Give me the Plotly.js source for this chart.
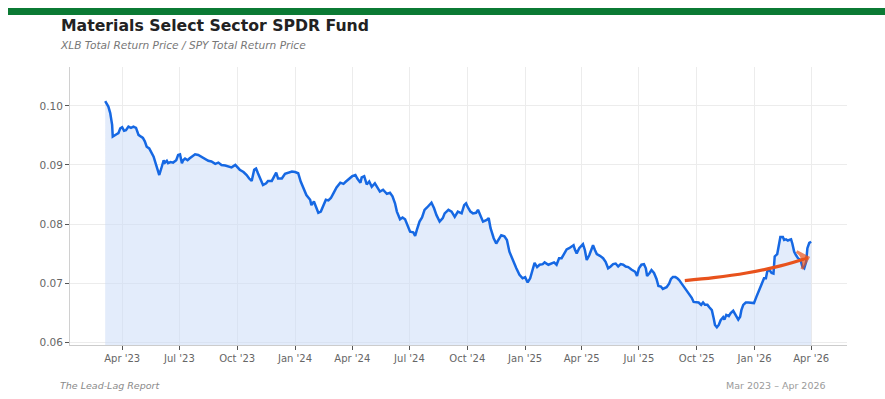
<!DOCTYPE html>
<html>
<head>
<meta charset="utf-8">
<script src="https://cdn.plot.ly/plotly-3.0.1.min.js"></script>
<style>
html, body { margin: 0; padding: 0; background: #ffffff; }
#chart { width: 885px; height: 399px; }
</style>
</head>
<body>
<div id="chart"></div>
<script>
// ---- Data ----
const dates = [
"2023-03-05","2023-03-10","2023-03-13","2023-03-16","2023-03-17","2023-03-21","2023-03-23","2023-03-26","2023-03-29","2023-04-01",
"2023-04-04","2023-04-07","2023-04-11","2023-04-15","2023-04-19","2023-04-23","2023-04-27","2023-05-01","2023-05-04","2023-05-07",
"2023-05-10","2023-05-14","2023-05-18","2023-05-21","2023-05-25","2023-05-27","2023-05-30","2023-06-03","2023-06-06","2023-06-08",
"2023-06-11","2023-06-13","2023-06-17","2023-06-21","2023-06-26","2023-06-29","2023-07-02","2023-07-05","2023-07-07","2023-07-10",
"2023-07-14","2023-07-17","2023-07-21","2023-07-26","2023-07-31","2023-08-05","2023-08-11","2023-08-16","2023-08-21","2023-08-27",
"2023-09-01","2023-09-06","2023-09-12","2023-09-17","2023-09-22","2023-09-28","2023-10-01","2023-10-05","2023-10-11","2023-10-16",
"2023-10-20","2023-10-24","2023-10-28","2023-10-31","2023-11-03","2023-11-07","2023-11-11","2023-11-16","2023-11-19","2023-11-25",
"2023-11-28","2023-12-02","2023-12-05","2023-12-11","2023-12-16","2023-12-21","2023-12-27","2024-01-01","2024-01-06","2024-01-10",
"2024-01-14","2024-01-19","2024-01-25","2024-01-27","2024-01-31","2024-02-03","2024-02-07","2024-02-11","2024-02-15","2024-02-19",
"2024-02-23","2024-02-27","2024-03-02","2024-03-07","2024-03-13","2024-03-18","2024-03-22","2024-03-26","2024-04-01","2024-04-06",
"2024-04-09","2024-04-14","2024-04-16","2024-04-20","2024-04-24","2024-04-28","2024-05-02","2024-05-07","2024-05-11","2024-05-15",
"2024-05-20","2024-05-26","2024-05-31","2024-06-04","2024-06-08","2024-06-11","2024-06-16","2024-06-20","2024-06-24","2024-06-28",
"2024-07-02","2024-07-07","2024-07-10","2024-07-13","2024-07-17","2024-07-21","2024-07-25","2024-07-29","2024-08-01","2024-08-05",
"2024-08-09","2024-08-13","2024-08-18","2024-08-23","2024-08-26","2024-09-01","2024-09-06","2024-09-11","2024-09-16","2024-09-22",
"2024-09-26","2024-09-29","2024-10-02","2024-10-06","2024-10-10","2024-10-15","2024-10-18","2024-10-22","2024-10-26","2024-11-01",
"2024-11-04","2024-11-07","2024-11-12","2024-11-16","2024-11-20","2024-11-24","2024-11-29","2024-12-03","2024-12-07","2024-12-12",
"2024-12-18","2024-12-23","2024-12-28","2025-01-01","2025-01-05","2025-01-09","2025-01-13","2025-01-16","2025-01-20","2025-01-24",
"2025-01-29","2025-02-01","2025-02-07","2025-02-12","2025-02-16","2025-02-20","2025-02-24","2025-02-28","2025-03-04","2025-03-08",
"2025-03-12","2025-03-16","2025-03-19","2025-03-21","2025-03-24","2025-03-28","2025-04-01","2025-04-03","2025-04-06","2025-04-09",
"2025-04-13","2025-04-17","2025-04-19","2025-04-22","2025-04-25","2025-04-30","2025-05-05","2025-05-09","2025-05-13","2025-05-17",
"2025-05-21","2025-05-25","2025-05-29","2025-06-02","2025-06-06","2025-06-10","2025-06-14","2025-06-19","2025-06-25","2025-06-28",
"2025-07-01","2025-07-05","2025-07-09","2025-07-12","2025-07-14","2025-07-18","2025-07-21","2025-07-25","2025-07-29","2025-08-01",
"2025-08-05","2025-08-08","2025-08-12","2025-08-14","2025-08-18","2025-08-21","2025-08-24","2025-08-28","2025-08-31","2025-09-03",
"2025-09-07","2025-09-11","2025-09-15","2025-09-19","2025-09-23","2025-09-26","2025-09-30","2025-10-04","2025-10-08","2025-10-11",
"2025-10-14","2025-10-18","2025-10-21","2025-10-25","2025-10-28","2025-10-30","2025-11-02","2025-11-05","2025-11-08","2025-11-12",
"2025-11-14","2025-11-17","2025-11-21","2025-11-24","2025-11-28","2025-12-02","2025-12-06","2025-12-09","2025-12-11","2025-12-14",
"2025-12-18","2025-12-22","2025-12-27","2025-12-31","2026-01-04","2026-01-08","2026-01-12","2026-01-16","2026-01-19","2026-01-21",
"2026-01-24","2026-01-28","2026-01-31","2026-02-02","2026-02-06","2026-02-09","2026-02-11","2026-02-15","2026-02-17","2026-02-20",
"2026-02-23","2026-02-25","2026-02-28","2026-03-02","2026-03-05","2026-03-08","2026-03-11","2026-03-15","2026-03-18","2026-03-21",
"2026-03-24","2026-03-26","2026-03-29","2026-04-01"
];
const ratio = [
0.1008,0.0999,0.0988,0.0968,0.0948,0.0950,0.0952,0.0954,0.0962,0.0964,
0.0958,0.0959,0.0965,0.0963,0.0965,0.0963,0.0951,0.0948,0.0946,0.0940,
0.0931,0.0928,0.0920,0.0914,0.0900,0.0892,0.0883,0.0897,0.0908,0.0904,
0.0907,0.0903,0.0905,0.0904,0.0908,0.0917,0.0918,0.0903,0.0908,0.0911,
0.0908,0.0911,0.0914,0.0918,0.0917,0.0914,0.0911,0.0907,0.0906,0.0902,
0.0904,0.0900,0.0899,0.0897,0.0896,0.0900,0.0897,0.0892,0.0888,0.0883,
0.0877,0.0873,0.0892,0.0894,0.0886,0.0877,0.0866,0.0869,0.0873,0.0873,
0.0880,0.0887,0.0877,0.0877,0.0885,0.0887,0.0889,0.0888,0.0886,0.0872,
0.0863,0.0849,0.0841,0.0832,0.0838,0.0830,0.0819,0.0821,0.0830,0.0841,
0.0840,0.0844,0.0852,0.0862,0.0870,0.0868,0.0872,0.0876,0.0881,0.0883,
0.0877,0.0870,0.0879,0.0881,0.0867,0.0872,0.0863,0.0869,0.0863,0.0855,
0.0858,0.0851,0.0853,0.0847,0.0835,0.0821,0.0808,0.0811,0.0808,0.0798,
0.0787,0.0786,0.0780,0.0791,0.0804,0.0811,0.0824,0.0828,0.0832,0.0836,
0.0827,0.0815,0.0804,0.0810,0.0818,0.0824,0.0821,0.0812,0.0821,0.0818,
0.0832,0.0835,0.0828,0.0821,0.0818,0.0819,0.0824,0.0815,0.0804,0.0807,
0.0810,0.0793,0.0776,0.0767,0.0773,0.0781,0.0779,0.0773,0.0753,0.0739,
0.0725,0.0714,0.0708,0.0710,0.0701,0.0708,0.0725,0.0734,0.0727,0.0731,
0.0732,0.0735,0.0731,0.0733,0.0735,0.0731,0.0742,0.0742,0.0750,0.0757,
0.0759,0.0762,0.0764,0.0757,0.0750,0.0759,0.0764,0.0766,0.0756,0.0739,
0.0747,0.0759,0.0764,0.0756,0.0749,0.0746,0.0742,0.0736,0.0725,0.0728,
0.0732,0.0733,0.0728,0.0732,0.0731,0.0728,0.0727,0.0723,0.0719,0.0712,
0.0725,0.0731,0.0732,0.0725,0.0712,0.0717,0.0722,0.0717,0.0707,0.0695,
0.0694,0.0690,0.0693,0.0693,0.0699,0.0707,0.0710,0.0710,0.0708,0.0705,
0.0699,0.0693,0.0689,0.0683,0.0675,0.0668,0.0668,0.0667,0.0663,0.0667,
0.0663,0.0663,0.0659,0.0654,0.0640,0.0629,0.0625,0.0629,0.0637,0.0642,
0.0638,0.0646,0.0644,0.0649,0.0653,0.0646,0.0638,0.0643,0.0654,0.0663,
0.0667,0.0667,0.0667,0.0666,0.0677,0.0688,0.0698,0.0708,0.0708,0.0719,
0.0723,0.0717,0.0716,0.0745,0.0749,0.0767,0.0778,0.0778,0.0773,0.0774,
0.0772,0.0773,0.0774,0.0767,0.0753,0.0747,0.0742,0.0739,0.0728,0.0725,
0.0736,0.0759,0.0768,0.0770
];
// Hand-drawn orange trend arrow
const arrowDates = ["2025-09-12","2025-10-28","2025-12-19","2026-02-11","2026-03-27"];
const arrowVals  = [0.0704, 0.0709, 0.0717, 0.0729, 0.0743];

const titleText = "Materials Select Sector SPDR Fund";
const subtitleText = "XLB Total Return Price / SPY Total Return Price";
const sourceText = "The Lead-Lag Report";
const periodText = "Mar 2023 – Apr 2026";
const yTicks = [0.06, 0.07, 0.08, 0.09, 0.10];
const yTickText = ["0.06", "0.07", "0.08", "0.09", "0.10"];

// ---- Chart ----
const W = 885, H = 399;
const M = {l: 70, r: 38, t: 67, b: 54};
const pw = W - M.l - M.r, ph = H - M.t - M.b;
const px = v => (v - M.l) / pw;          // pixel -> paper x
const py = v => (H - M.b - v) / ph;      // pixel -> paper y

const lineTrace = {
  x: dates, y: ratio, type: "scatter", mode: "lines",
  line: {color: "#1668e3", width: 2.5},
  fill: "tozeroy", fillcolor: "rgba(200,218,248,0.5)",
  hoverinfo: "skip", showlegend: false
};
const n = arrowDates.length;
const arrowTrace = {
  x: arrowDates, y: arrowVals, type: "scatter", mode: "lines",
  line: {color: "#e8521c", width: 3.2, shape: "spline"},
  hoverinfo: "skip", showlegend: false
};
const arrowHeadTrace = {
  x: arrowDates.slice(n - 2), y: arrowVals.slice(n - 2),
  type: "scatter", mode: "markers",
  marker: {
    symbol: ["circle", "arrow-wide-open"], size: [0, 13],
    angleref: "previous", color: "#e8521c",
    line: {color: "#e8521c", width: 3}
  },
  hoverinfo: "skip", showlegend: false
};

const layout = {
  width: W, height: H,
  margin: M,
  paper_bgcolor: "#ffffff", plot_bgcolor: "#ffffff",
  font: {family: "DejaVu Sans, sans-serif", color: "#555"},
  showlegend: false,
  title: {
    text: "<b>" + titleText + "</b>",
    xref: "container", yref: "container",
    x: 61 / W, xanchor: "left",
    y: 1 - 26 / H, yanchor: "middle",
    font: {family: "DejaVu Sans, sans-serif", size: 15.7, color: "#222"}
  },
  xaxis: {
    type: "date",
    range: ["2023-01-08", "2026-05-28"],
    tick0: "2023-01-01", dtick: "M3",
    tickformat: "%b '%y",
    ticks: "outside", ticklen: 4, tickcolor: "#555", tickwidth: 1,
    tickfont: {size: 10, color: "#666"},
    showgrid: true, gridcolor: "#ececec", gridwidth: 1,
    showline: true, linecolor: "#cccccc", linewidth: 1,
    zeroline: false, fixedrange: true
  },
  yaxis: {
    range: [0.0595, 0.1066],
    tickvals: yTicks, ticktext: yTickText,
    ticks: "outside", ticklen: 4, tickcolor: "#555", tickwidth: 1,
    tickfont: {size: 10.5, color: "#666"},
    showgrid: true, gridcolor: "#ececec", gridwidth: 1,
    showline: true, linecolor: "#d0d0d0", linewidth: 1,
    zeroline: false, fixedrange: true
  },
  shapes: [
    {type: "rect", xref: "paper", yref: "paper",
     x0: px(8), x1: px(886), y0: py(15), y1: py(8),
     fillcolor: "#0b7a34", line: {width: 0}, layer: "above"}
  ],
  annotations: [
    {text: "<i>" + subtitleText + "</i>", xref: "paper", yref: "paper",
     x: px(58), y: py(45), xanchor: "left", yanchor: "middle", showarrow: false,
     font: {size: 10.6, color: "#777"}},
    {text: "<i>" + sourceText + "</i>", xref: "paper", yref: "paper",
     x: px(58), y: py(385), xanchor: "left", yanchor: "middle", showarrow: false,
     font: {size: 9.5, color: "#8a8a8a"}},
    {text: periodText, xref: "paper", yref: "paper",
     x: px(828), y: py(385), xanchor: "right", yanchor: "middle", showarrow: false,
     font: {size: 9.5, color: "#9a9a9a"}}
  ]
};

Plotly.newPlot("chart", [lineTrace, arrowTrace, arrowHeadTrace], layout, {staticPlot: true, displayModeBar: false});
</script>
</body>
</html>
